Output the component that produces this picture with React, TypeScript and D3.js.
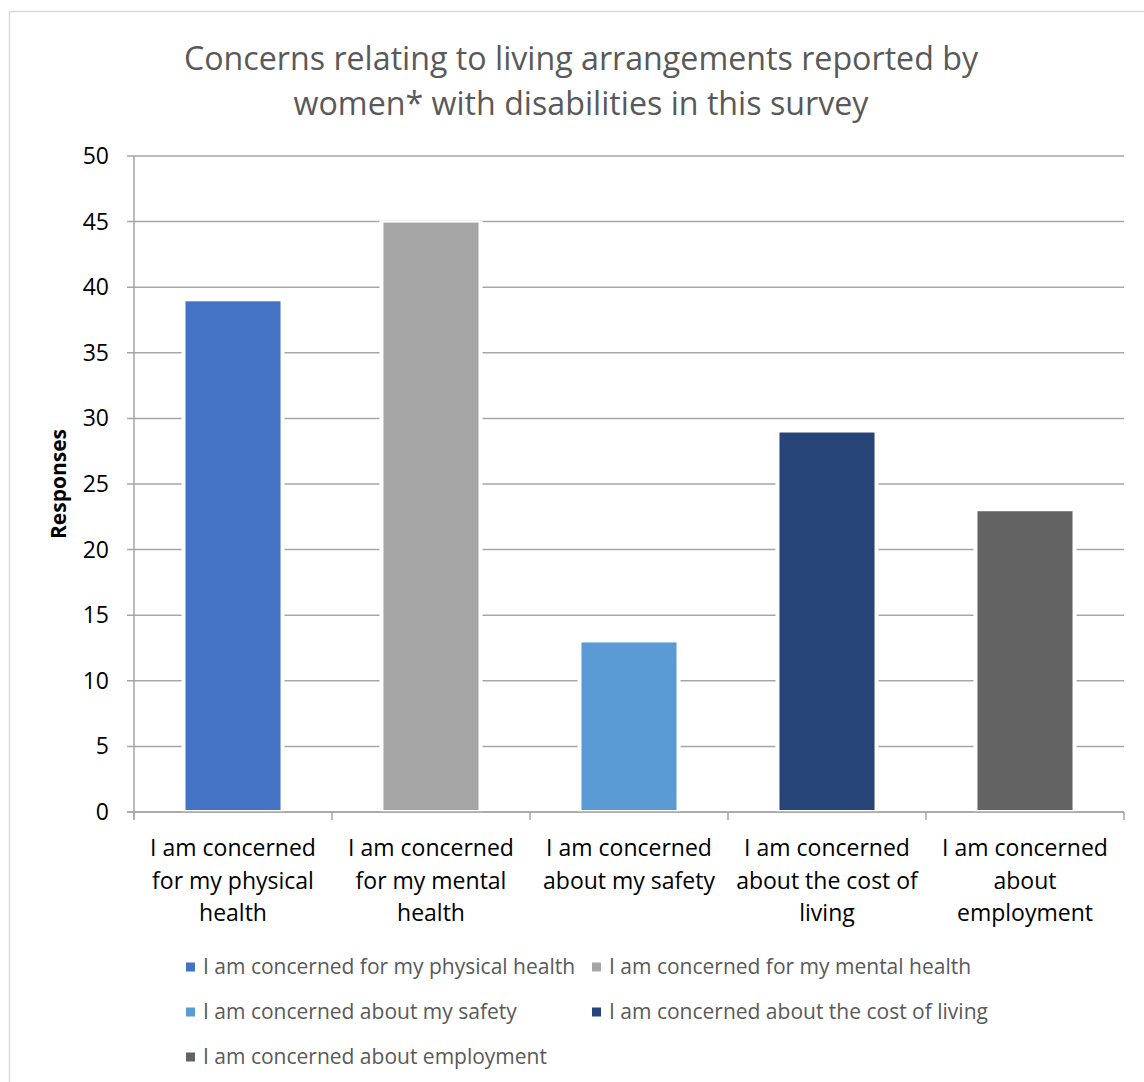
import React from "react";
import * as d3 from "d3";

const categories = [
  "I am concerned for my physical health",
  "I am concerned for my mental health",
  "I am concerned about my safety",
  "I am concerned about the cost of living",
  "I am concerned about employment",
];
const values = [39, 45, 13, 29, 23];
const colors = ["#4472C4", "#A5A5A5", "#5B9BD5", "#264478", "#636363"];
const yTicks = [0, 5, 10, 15, 20, 25, 30, 35, 40, 45, 50];
const titleLines = [
  "Concerns relating to living arrangements reported by",
  "women* with disabilities in this survey",
];
const yAxisTitle = "Responses";

const W = 1144;
const H = 1082;
const FONT = "'Open Sans', sans-serif";

function wrap(text: string, maxW: number, font: string): string[] {
  const canvas = document.createElement("canvas");
  const ctx = canvas.getContext("2d")!;
  ctx.font = font;
  const words = text.split(" ");
  const lines: string[] = [];
  let cur = "";
  for (const w of words) {
    const t = cur ? cur + " " + w : w;
    if (ctx.measureText(t).width > maxW && cur) {
      lines.push(cur);
      cur = w;
    } else cur = t;
  }
  if (cur) lines.push(cur);
  return lines;
}

export default function App() {
  const left = 134, right = 1124, top = 156, bottom = 812;
  const x = d3.scaleBand<string>().domain(categories).range([left, right]).paddingInner(0.52).paddingOuter(0.26);
  const y = d3.scaleLinear().domain([0, 50]).range([bottom, top]);
  const step = (right - left) / categories.length;
  const tickFont = `23px 'Open Sans'`;

  const legendRows = [
    [0, 1],
    [2, 3],
    [4],
  ];
  const legendColX = [186, 592];
  const legendRowY = [967, 1012, 1057];

  return (
    <svg width={W} height={H} style={{ position: "absolute", left: 0, top: 0, background: "#fff" }} fontFamily={FONT}>
      <rect x={0} y={0} width={W} height={H} fill="#fff" />
      <rect x={9.5} y={11.5} width={W + 20} height={H + 20} fill="none" stroke="#d9d9d9" strokeWidth={1.5} />
      {titleLines.map((t, i) => (
        <text key={i} x={581} y={70 + i * 45} textAnchor="middle" fontSize={32.2} fill="#595959">
          {t}
        </text>
      ))}
      {yTicks.map((t) => (
        <g key={t}>
          <line x1={127} x2={right} y1={y(t)} y2={y(t)} stroke="#a6a6a6" strokeWidth={1.5} />
          <text x={109} y={y(t) + 8} textAnchor="end" fontSize={23} fill="#000">
            {t}
          </text>
        </g>
      ))}
      {categories.map((c, i) => (
        <g key={c}>
          <rect x={x(c)! - 4} y={y(values[i]) - 1} width={x.bandwidth() + 8} height={bottom - y(values[i]) + 1} fill="#fff" />
          <rect x={x(c)!} y={y(values[i]) + 1} width={x.bandwidth()} height={bottom - y(values[i]) - 3} fill={colors[i]} />
        </g>
      ))}
      <line x1={left} x2={left} y1={top} y2={bottom + 7} stroke="#a6a6a6" strokeWidth={1.5} />
      <line x1={127} x2={right} y1={bottom} y2={bottom} stroke="#a6a6a6" strokeWidth={1.5} />
      {d3.range(categories.length + 1).map((i) => (
        <line key={i} x1={left + i * step} x2={left + i * step} y1={bottom} y2={bottom + 8} stroke="#a6a6a6" strokeWidth={1.5} />
      ))}
      {categories.map((c) => {
        const lines = wrap(c, 190, tickFont);
        const cx = x(c)! + x.bandwidth() / 2;
        return (
          <text key={c} x={cx} textAnchor="middle" fontSize={23} fill="#000">
            {lines.map((l, j) => (
              <tspan key={j} x={cx} y={856 + j * 32.5}>
                {l}
              </tspan>
            ))}
          </text>
        );
      })}
      <text transform={`translate(66,484) rotate(-90)`} textAnchor="middle" fontSize={21} fontWeight="bold" fill="#000">
        {yAxisTitle}
      </text>
      {legendRows.map((row, r) =>
        row.map((idx, k) => (
          <g key={idx}>
            <rect x={legendColX[k]} y={legendRowY[r] - 4.5} width={9} height={9} fill={colors[idx]} />
            <text x={legendColX[k] + 17} y={legendRowY[r] + 7} fontSize={21} fill="#595959">
              {categories[idx]}
            </text>
          </g>
        ))
      )}
    </svg>
  );
}
